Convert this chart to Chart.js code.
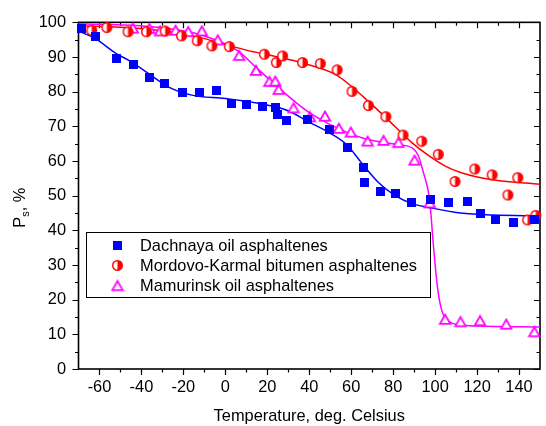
<!DOCTYPE html>
<html lang="en">
<head>
<meta charset="UTF-8">
<title>Ps vs temperature</title>
<script src="https://cdn.jsdelivr.net/npm/chart.js"></script>
<style>
  html, body { margin: 0; padding: 0; background: #fff; }
</style>
</head>
<body>
<canvas id="psChart" width="546" height="426"></canvas>
<script>
// series names (legend order)
const seriesNames = ["Dachnaya oil asphaltenes", "Mordovo-Karmal bitumen asphaltenes", "Mamurinsk oil asphaltenes"];

// measured points: temperature (deg C) and Ps (%)
const dachT = [-68.7, -62, -52.1, -43.6, -36.2, -28.9, -20.2, -12.2, -4.1, 3.1, 10, 17.9, 23.8, 24.9, 29.2, 39, 49.7, 58.4, 65.7, 66.2, 74, 81.1, 88.8, 98, 106.4, 115.3, 121.4, 128.8, 137.4, 147.3];
const dachP = [98.3, 96, 89.6, 87.7, 84.0, 82.4, 79.8, 79.8, 80.4, 76.7, 76.2, 75.8, 75.3, 73.4, 71.8, 72.1, 69.0, 64.0, 58.1, 53.8, 51.2, 50.7, 47.9, 48.8, 47.9, 48.2, 45.0, 43.0, 42.3, 43.0];

const mordT = [-63.7, -56.5, -46.4, -37.6, -28.7, -20.9, -13.4, -6.4, 1.9, 18.6, 24.3, 27.3, 36.8, 45.3, 53.3, 60.4, 68.2, 76.5, 84.7, 93.6, 101.5, 109.5, 118.9, 127.2, 134.7, 139.4, 144.1, 148];
const mordP = [97.7, 98.5, 97.3, 97.3, 97.5, 96.1, 94.7, 93.2, 93.0, 90.8, 88.4, 90.3, 88.4, 88.1, 86.3, 80.1, 76.0, 72.8, 67.5, 65.7, 61.9, 54.1, 57.7, 56.0, 50.2, 55.2, 43.0, 44.3];

const mamT = [-44.1, -36.2, -31.1, -23.7, -17.7, -11.2, -3.6, 6.6, 14.6, 21, 23.8, 25.4, 32.5, 40.3, 47.5, 54.1, 59.8, 67.8, 75.4, 82.5, 90.2, 97.4, 104.8, 112.1, 121.4, 133.9, 147.3];
const mamP = [98.3, 98.2, 97.5, 97.7, 97.3, 97.5, 94.9, 90.4, 86.1, 82.9, 83.0, 80.6, 75.3, 72.7, 72.9, 69.4, 68.3, 65.7, 65.9, 65.3, 60.2, 47.9, 14.3, 13.6, 13.9, 12.9, 10.7];

// fitted curves
const dachFitT = [-70, -62, -52, -46, -36, -27, -16, 0, 15, 25, 31, 39, 50, 58, 65.5, 73, 81, 89, 97, 112, 128, 150];
const dachFitP = [97.5, 95.3, 91, 89, 85, 81.3, 79, 78, 76.7, 75.5, 74.2, 71.5, 68, 64.6, 59, 53.8, 50, 47.7, 46.6, 45, 44.4, 44.2];

const mordFitT = [-70, -50, -25, -10, 0, 12, 25, 37, 53, 60, 65.4, 73.2, 81.1, 88.9, 96.8, 104.6, 112.5, 128, 150];
const mordFitP = [99, 98.6, 97.2, 95.3, 93.6, 91.7, 90, 88.2, 84.8, 81.6, 78.7, 74.4, 69.8, 65.3, 61.6, 58.6, 56.6, 54.5, 53.3];

const mamFitT = [-70, -41, -25, -10, 6, 15, 31, 39, 50, 65, 81, 89, 92, 94.5, 96.5, 97.6, 99, 100.5, 102, 104, 107, 112, 120, 150];
const mamFitP = [99.6, 99, 98, 96.1, 91.8, 86.8, 78.2, 74.4, 70.5, 66.7, 64.8, 63.8, 61.5, 56.5, 52, 47.6, 37, 27, 20, 15.5, 13.5, 12.7, 12.4, 12.1];

// axes
const xMin = -70, xMax = 150;
const xTickValues = [-60, -40, -20, 0, 20, 40, 60, 80, 100, 120, 140];
const xMinorValues = [-50, -30, -10, 10, 30, 50, 70, 90, 110, 130];
const yTickValues = [0, 10, 20, 30, 40, 50, 60, 70, 80, 90, 100];
const yMinorValues = [5, 15, 25, 35, 45, 55, 65, 75, 85, 95];

const BLUE = "#0000ff", RED = "#ff0000", MAGENTA = "#ff00ff";
const FONT = "'Liberation Sans', Arial, sans-serif";
const FS = 16.4;

function pairs(xs, ys) { return xs.map((v, i) => ({x: v, y: ys[i]})); }

// point symbols
function squareSym() {
    const c = document.createElement("canvas");
    c.width = 9; c.height = 9;
    const g = c.getContext("2d");
    g.fillStyle = BLUE;
    g.fillRect(0, 0, 9, 9);
    return c;
}
function halfCircleSym() {
    const c = document.createElement("canvas");
    c.width = 13; c.height = 13;
    const g = c.getContext("2d");
    g.fillStyle = "#fff";
    g.beginPath(); g.arc(6.5, 6.5, 4.8, 0, Math.PI * 2); g.fill();
    g.fillStyle = RED;
    g.beginPath(); g.arc(6.5, 6.5, 4.8, -Math.PI / 2, Math.PI / 2); g.closePath(); g.fill();
    g.strokeStyle = RED; g.lineWidth = 1.4;
    g.beginPath(); g.arc(6.5, 6.5, 4.8, 0, Math.PI * 2); g.stroke();
    return c;
}
function triangleSym() {
    const c = document.createElement("canvas");
    c.width = 14; c.height = 13;
    const g = c.getContext("2d");
    g.fillStyle = "#fff"; g.strokeStyle = MAGENTA; g.lineWidth = 1.8;
    g.beginPath(); g.moveTo(7, 1.8); g.lineTo(12.2, 10.8); g.lineTo(1.8, 10.8); g.closePath();
    g.fill(); g.stroke();
    return c;
}
const symbols = [squareSym(), halfCircleSym(), triangleSym()];

const frameAndTicks = {
    id: "frameAndTicks",
    beforeDatasetsDraw(chart) {
        const {ctx, chartArea: a, scales: {x, y}} = chart;
        ctx.save();
        ctx.strokeStyle = "#000";
        ctx.lineWidth = 1.2;
        ctx.beginPath();
        const tick = (vals, len) => {
            vals.forEach(v => {
                const px = Math.round(x.getPixelForValue(v)) + 0.5;
                ctx.moveTo(px, a.bottom); ctx.lineTo(px, a.bottom + len);   // bottom, outward
                ctx.moveTo(px, a.top); ctx.lineTo(px, a.top + len);         // top, inward
            });
        };
        const tickY = (vals, len) => {
            vals.forEach(v => {
                const py = Math.round(y.getPixelForValue(v)) + 0.5;
                ctx.moveTo(a.left, py); ctx.lineTo(a.left - len, py);       // left, outward
                ctx.moveTo(a.right, py); ctx.lineTo(a.right - len, py);     // right, inward
            });
        };
        tick(xTickValues, 6); tick(xMinorValues, 3.5);
        tickY(yTickValues, 6); tickY(yMinorValues, 3.5);
        ctx.stroke();
        ctx.lineWidth = 1.6;
        ctx.strokeRect(a.left, a.top, a.right - a.left, a.bottom - a.top);

        // axis titles
        ctx.fillStyle = "#000";
        ctx.font = FS + "px " + FONT;
        ctx.textAlign = "center";
        ctx.textBaseline = "alphabetic";
        ctx.fillText("Temperature, deg. Celsius", (a.left + a.right) / 2, 421);

        ctx.translate(25, (a.top + a.bottom) / 2 + 12);
        ctx.rotate(-Math.PI / 2);
        ctx.textAlign = "left";
        const w1 = ctx.measureText("P").width;
        ctx.font = "11px " + FONT;
        const w2 = ctx.measureText("s").width;
        ctx.font = FS + "px " + FONT;
        const w3 = ctx.measureText(", %").width;
        let sx = -(w1 + w2 + w3) / 2;
        ctx.fillText("P", sx, 0);
        ctx.font = "11px " + FONT;
        ctx.fillText("s", sx + w1, 4);
        ctx.font = FS + "px " + FONT;
        ctx.fillText(", %", sx + w1 + w2, 0);
        ctx.restore();
    },
    afterDatasetsDraw(chart) {
        // legend box
        const {ctx, chartArea: a} = chart;
        const bx = a.left + 7.5, by = 232, bw = 344, bh = 65;
        ctx.save();
        ctx.fillStyle = "#fff";
        ctx.fillRect(bx, by, bw, bh);
        ctx.strokeStyle = "#000";
        ctx.lineWidth = 1;
        ctx.strokeRect(bx + 0.5, by + 0.5, bw, bh);
        ctx.font = FS + "px " + FONT;
        ctx.fillStyle = "#000";
        ctx.textBaseline = "middle";
        ctx.textAlign = "left";
        seriesNames.forEach((name, i) => {
            const cy = by + 13 + i * 20.4;
            const s = symbols[i];
            ctx.drawImage(s, bx + 31.5 - s.width / 2, cy - s.height / 2);
            ctx.fillText(name, bx + 54, cy + 1);
        });
        ctx.restore();
    }
};

const pointSets = [[dachT, dachP], [mordT, mordP], [mamT, mamP]];
const fitSets = [[dachFitT, dachFitP, BLUE], [mordFitT, mordFitP, RED], [mamFitT, mamFitP, MAGENTA]];

const datasets = [];
pointSets.forEach((s, i) => {
    datasets.push({
        label: seriesNames[i],
        data: pairs(s[0], s[1]),
        pointStyle: symbols[i],
        pointRadius: 5,
        showLine: false,
        clip: false
    });
});
fitSets.forEach(s => {
    datasets.push({
        data: pairs(s[0], s[1]),
        showLine: true,
        pointRadius: 0,
        borderColor: s[2],
        borderWidth: 1.5,
        cubicInterpolationMode: "monotone",
        fill: false
    });
});

new Chart(document.getElementById("psChart"), {
    type: "scatter",
    data: { datasets: datasets },
    options: {
        responsive: false,
        devicePixelRatio: 1,
        animation: false,
        layout: { padding: { top: 20.7, right: 1, left: 0, bottom: 0 } },
        plugins: { legend: { display: false }, tooltip: { enabled: false } },
        scales: {
            x: {
                type: "linear",
                min: xMin, max: xMax,
                grid: { display: false, drawTicks: false },
                border: { display: false },
                afterBuildTicks: sc => { sc.ticks = xTickValues.map(v => ({value: v})); },
                afterFit: sc => { sc.height = 57; },
                ticks: { color: "#000", padding: 8.5, maxRotation: 0, font: { family: FONT, size: FS } }
            },
            y: {
                type: "linear",
                min: 0, max: 100,
                grid: { display: false, drawTicks: false },
                border: { display: false },
                afterBuildTicks: sc => { sc.ticks = yTickValues.map(v => ({value: v})); },
                afterFit: sc => { sc.width = 78.5; },
                ticks: { color: "#000", padding: 12.5, font: { family: FONT, size: FS } }
            }
        }
    },
    plugins: [frameAndTicks]
});
</script>
</body>
</html>
